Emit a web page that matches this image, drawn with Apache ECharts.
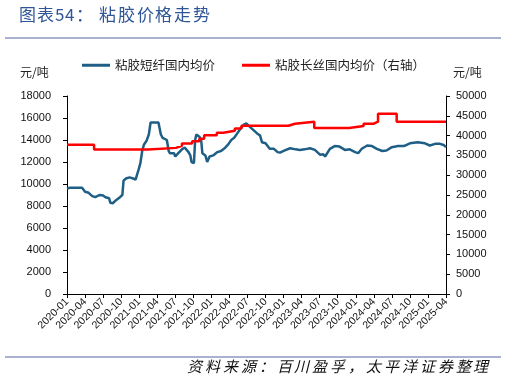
<!DOCTYPE html>
<html><head><meta charset="utf-8">
<script src="https://cdn.jsdelivr.net/npm/echarts@6/dist/echarts.min.js"></script>
<style>html,body{margin:0;padding:0;background:#fff}#c{width:507px;height:383px}</style>
</head><body><div id="c"></div>
<script>
var staplePriceDates = ['2020-01-01','2020-01-16','2020-03-16','2020-04-01','2020-04-19','2020-05-07','2020-05-22','2020-06-13','2020-07-01','2020-07-13','2020-08-01','2020-08-07','2020-08-19','2020-09-07','2020-09-25','2020-10-07','2020-10-13','2020-10-25','2020-11-13','2020-12-01','2020-12-13','2020-12-28','2021-01-07','2021-01-16','2021-01-25','2021-02-07','2021-02-19','2021-02-28','2021-04-07','2021-04-19','2021-04-28','2021-05-19','2021-05-28','2021-06-04','2021-06-25','2021-07-01','2021-07-16','2021-08-07','2021-08-19','2021-09-07','2021-09-16','2021-09-22','2021-10-04','2021-10-10','2021-10-16','2021-11-01','2021-11-10','2021-11-16','2021-12-01','2021-12-10','2021-12-22','2022-01-10','2022-02-01','2022-02-19','2022-03-10','2022-03-25','2022-04-10','2022-04-25','2022-05-10','2022-05-25','2022-06-13','2022-06-25','2022-07-13','2022-08-01','2022-08-19','2022-09-04','2022-09-13','2022-10-01','2022-10-22','2022-11-13','2022-12-01','2022-12-13','2023-01-07','2023-02-04','2023-03-01','2023-03-22','2023-04-16','2023-05-13','2023-06-07','2023-07-04','2023-07-19','2023-07-28','2023-08-22','2023-09-16','2023-10-10','2023-11-07','2023-12-01','2023-12-28','2024-01-13','2024-02-01','2024-02-28','2024-03-22','2024-04-16','2024-05-13','2024-06-04','2024-07-01','2024-08-01','2024-09-01','2024-10-01','2024-11-10','2024-12-16','2025-01-10','2025-02-07','2025-03-01','2025-03-19','2025-04-01'];
var staplePrice = [9600,9650,9650,9300,9200,8900,8800,9000,8950,8800,8700,8300,8250,8550,8800,9000,10300,10500,10600,10500,10400,11300,11900,13000,13600,13900,14500,15600,15600,14500,14200,14000,13000,12800,12800,12500,12800,13200,13300,12900,12600,12000,11900,14000,14500,14300,14000,12800,12600,12000,12500,12600,12900,13000,13300,13600,14000,14200,14600,15000,15400,15500,15200,14900,14600,14400,13800,13700,13200,13200,12900,12850,13050,13250,13150,13100,13150,13250,13100,12650,12700,12500,13200,13450,13400,13100,13150,12900,12800,13200,13500,13450,13200,13000,13050,13350,13450,13450,13700,13800,13700,13500,13650,13650,13550,13350];
var filamentPriceDates = ['2020-01-01','2020-05-16','2021-02-16','2021-07-04','2021-08-04','2021-09-25','2021-11-01','2021-11-25','2022-01-28','2022-03-01','2022-04-28','2022-06-01','2023-01-25','2023-02-28','2023-06-04','2023-11-28','2024-02-10','2024-04-01','2024-04-22','2024-07-25','2025-04-01'];
var filamentPrice = [37700,36500,36900,37400,38000,38600,39200,40100,40700,41200,41800,42500,43000,43500,41900,42400,43000,43500,45500,43500,43500];
var seriesNames = ['粘胶短纤国内均价','粘胶长丝国内均价（右轴）'];
var tickLabels = ['2020-01','2020-04','2020-07','2020-10','2021-01','2021-04','2021-07','2021-10','2022-01','2022-04','2022-07','2022-10','2023-01','2023-04','2023-07','2023-10','2024-01','2024-04','2024-07','2024-10','2025-01','2025-04'];
var titleHead = '图表54：';
var titleBody = '粘胶价格走势';
var sourceText = '资料来源：百川盈孚，太平洋证券整理';

function toIdx(s){var p=s.split('-');return (+p[0]-2020)*12+(+p[1]-1)+(+p[2]-1)/30;}
function pairs(d,v){return d.map(function(s,i){return [toIdx(s),v[i]];});}
var mctx=document.createElement('canvas').getContext('2d');
function spaced(text,x,top,font,fill,spacing){
  mctx.font=font;var out=[];var cx=x;
  for(var i=0;i<text.length;i++){var ch=text[i];
    out.push({type:'text',left:Math.round(cx),top:top,style:{text:ch,font:font,fill:fill}});
    cx+=mctx.measureText(ch).width+spacing;}
  return out;}
var font='"Noto Sans CJK SC", sans-serif';
var titleFont='17px "Noto Sans CJK SC"';
var srcFont='italic 15px "Noto Sans CJK SC"';
var graphics=[
  {type:'line',shape:{x1:5,y1:38,x2:501,y2:38},style:{stroke:'#8C96C0',lineWidth:1.5}},
  {type:'line',shape:{x1:5,y1:357,x2:501,y2:357},style:{stroke:'#8C96C0',lineWidth:1.5}},
  {type:'text',left:20,top:66,style:{text:'元/吨',font:'12px "Noto Sans CJK SC"',fill:'#222'}},
  {type:'text',left:453,top:66,style:{text:'元/吨',font:'12px "Noto Sans CJK SC"',fill:'#222'}}
];
graphics=graphics.concat(spaced(titleHead,19,6,titleFont,'#2F5597',1));
graphics=graphics.concat(spaced(titleBody,99,6,titleFont,'#2F5597',1.8));
graphics=graphics.concat(spaced(sourceText,187,359,srcFont,'#111',2.9));
var chart=echarts.init(document.getElementById('c'));
chart.setOption({
  animation:false,
  backgroundColor:'#fff',
  grid:{left:67,right:61,top:96,bottom:89},
  legend:{left:77,top:54,itemWidth:28,itemHeight:3,itemGap:27,icon:'rect',
    textStyle:{fontFamily:font,fontSize:12.5,color:'#222'},
    data:seriesNames},
  graphic:graphics,
  xAxis:{type:'value',min:0,max:63,interval:3,
    axisLine:{lineStyle:{color:'#000',width:1}},
    axisTick:{show:true,length:4,lineStyle:{color:'#000'}},
    splitLine:{show:false},
    axisLabel:{rotate:45,fontSize:10.5,color:'#111',fontFamily:'Liberation Sans',margin:6,
      formatter:function(v){return tickLabels[Math.round(v/3)]||'';}}},
  yAxis:[
    {type:'value',min:0,max:18000,interval:2000,
     axisLine:{show:true,lineStyle:{color:'#000'}},
     axisTick:{show:true,length:4,lineStyle:{color:'#000'}},
     splitLine:{show:false},
     axisLabel:{fontSize:11,color:'#111',fontFamily:'Liberation Sans',margin:16,formatter:function(v){return String(v);}}},
    {type:'value',min:0,max:50000,interval:5000,position:'right',
     axisLine:{show:true,lineStyle:{color:'#000'}},
     axisTick:{show:true,length:4,lineStyle:{color:'#000'}},
     splitLine:{show:false},
     axisLabel:{fontSize:11,color:'#111',fontFamily:'Liberation Sans',margin:10,formatter:function(v){return String(v);}}}
  ],
  series:[
    {name:seriesNames[0],type:'line',yAxisIndex:0,showSymbol:false,
     data:pairs(staplePriceDates,staplePrice),
     lineStyle:{color:'#1F5F86',width:2.5},itemStyle:{color:'#1F5F86'}},
    {name:seriesNames[1],type:'line',yAxisIndex:1,showSymbol:false,step:'end',
     data:pairs(filamentPriceDates,filamentPrice),
     lineStyle:{color:'#FF0000',width:2.5},itemStyle:{color:'#FF0000'}}
  ]
});
</script></body></html>
